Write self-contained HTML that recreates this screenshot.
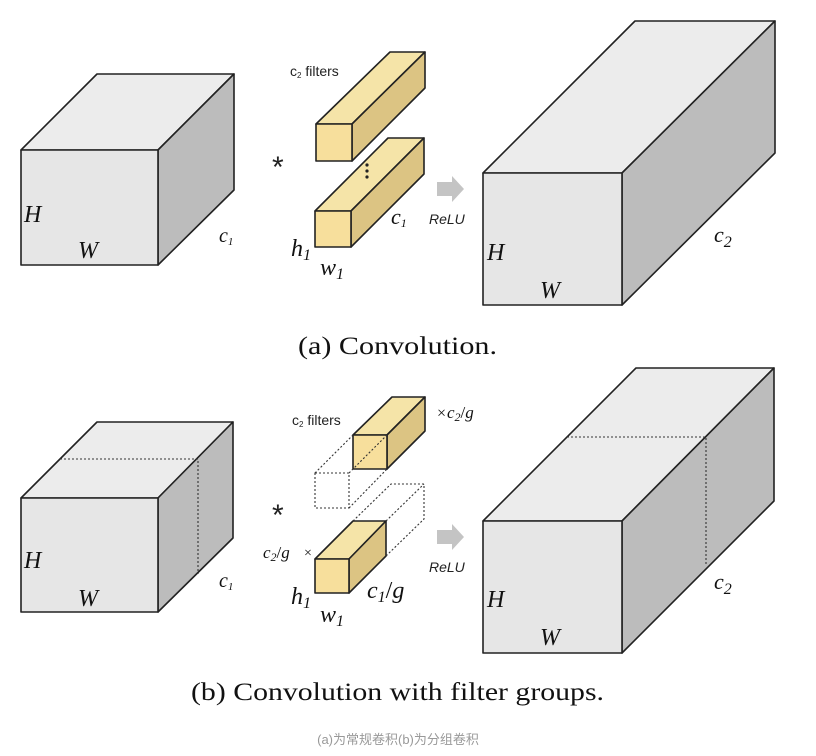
<!DOCTYPE html>
<html><head><meta charset="utf-8"><style>
html,body{margin:0;padding:0;background:#fff;}
svg{display:block;}
</style></head><body>
<svg width="816" height="756" viewBox="0 0 816 756" xmlns="http://www.w3.org/2000/svg">
<g stroke="#222" stroke-width="1.6" stroke-linejoin="round">
<!-- (a) left box -->
<polygon points="21,150 97,74 234,74 158,150" fill="#ececec"/>
<polygon points="158,150 234,74 234,190 158,265" fill="#bcbcbc"/>
<rect x="21" y="150" width="137" height="115" fill="#e6e6e6"/>
<!-- (a) filter 1 -->
<polygon points="316,124 390,52 425,52 352,124" fill="#f5e4a8"/>
<polygon points="352,124 425,52 425,88 352,161" fill="#dcc483"/>
<rect x="316" y="124" width="36" height="37" fill="#f7df9c"/>
<!-- (a) filter 2 -->
<polygon points="315,211 388,138 424,138 351,211" fill="#f5e4a8"/>
<polygon points="351,211 424,138 424,174 351,247" fill="#dcc483"/>
<rect x="315" y="211" width="36" height="36" fill="#f7df9c"/>
<!-- (a) right box -->
<polygon points="483,173 635,21 775,21 622,173" fill="#ececec"/>
<polygon points="622,173 775,21 775,153 622,305" fill="#bcbcbc"/>
<rect x="483" y="173" width="139" height="132" fill="#e6e6e6"/>

<!-- (b) left box -->
<polygon points="21,498 97,422 233,422 158,498" fill="#ececec"/>
<polygon points="158,498 233,422 233,538 158,612" fill="#bcbcbc"/>
<rect x="21" y="498" width="137" height="114" fill="#e6e6e6"/>
<!-- (b) right box -->
<polygon points="483,521 636,368 774,368 622,521" fill="#ececec"/>
<polygon points="622,521 774,368 774,501 622,653" fill="#bcbcbc"/>
<rect x="483" y="521" width="139" height="132" fill="#e6e6e6"/>
<!-- (b) top filter -->
<polygon points="353,435 392,397 425,397 387,435" fill="#f5e4a8"/>
<polygon points="387,435 425,397 425,431 387,469" fill="#dcc483"/>
<rect x="353" y="435" width="34" height="34" fill="#f7df9c"/>
<!-- (b) bottom filter -->
<polygon points="315,559 353,521 386,521 349,559" fill="#f5e4a8"/>
<polygon points="349,559 386,521 386,556 349,593" fill="#dcc483"/>
<rect x="315" y="559" width="34" height="34" fill="#f7df9c"/>
</g>
<!-- dotted lines -->
<g stroke="#333" stroke-width="1.1" stroke-dasharray="2,2" fill="none">
<path d="M60,459 L198,459 L198,574"/>
<path d="M567,437 L706,437 L706,565"/>
<rect x="315" y="473" width="34" height="35"/>
<path d="M315,473 L353,435 M349,508 L387,469 M349,473 L387,435"/>
<path d="M353,521 L391,484 L424,484 L424,519 L386,556 M386,521 L424,484"/>
</g>
<!-- arrows -->
<polygon points="437,182 452,182 452,176 464,189 452,202 452,196 437,196" fill="#c4c4c4"/>
<polygon points="437,530 452,530 452,524 464,537 452,550 452,544 437,544" fill="#c4c4c4"/>
<!-- dots -->
<g fill="#222"><circle cx="367" cy="165" r="1.6"/><circle cx="367" cy="171" r="1.6"/><circle cx="367" cy="177" r="1.6"/></g>

<g font-family="Liberation Serif, serif" font-style="italic" fill="#111">
<text x="24" y="222" font-size="24">H</text>
<text x="78" y="258" font-size="24">W</text>
<text x="219" y="242" font-size="20">c<tspan font-size="11" dy="3">1</tspan></text>
<text x="291" y="256" font-size="24">h<tspan font-size="16" dy="4">1</tspan></text>
<text x="320" y="275" font-size="24">w<tspan font-size="16" dy="4">1</tspan></text>
<text x="391" y="224" font-size="22">c<tspan font-size="12" dy="3">1</tspan></text>
<text x="487" y="260" font-size="24">H</text>
<text x="540" y="298" font-size="24">W</text>
<text x="714" y="242" font-size="22">c<tspan font-size="16" dy="5">2</tspan></text>

<text x="24" y="568" font-size="24">H</text>
<text x="78" y="606" font-size="24">W</text>
<text x="219" y="587" font-size="20">c<tspan font-size="11" dy="3">1</tspan></text>
<text x="291" y="604" font-size="24">h<tspan font-size="16" dy="4">1</tspan></text>
<text x="320" y="622" font-size="24">w<tspan font-size="16" dy="4">1</tspan></text>
<text x="367" y="598" font-size="24">c<tspan font-size="16" dy="4">1</tspan><tspan dy="-4" font-style="normal">/</tspan>g</text>
<text x="487" y="607" font-size="24">H</text>
<text x="540" y="645" font-size="24">W</text>
<text x="714" y="589" font-size="22">c<tspan font-size="16" dy="5">2</tspan></text>
<text x="437" y="418" font-size="16" font-style="normal">×</text>
<text x="447" y="418" font-size="17">c<tspan font-size="12" dy="3">2</tspan><tspan dy="-3" font-style="normal">/</tspan>g</text>
<text x="263" y="558" font-size="17">c<tspan font-size="12" dy="3">2</tspan><tspan dy="-3" font-style="normal">/</tspan>g</text>
<text x="304" y="557" font-size="14" font-style="normal">×</text>
</g>
<g font-family="Liberation Sans, sans-serif" fill="#222">
<text x="290" y="76" font-size="14">c<tspan font-size="8" dy="2">2</tspan><tspan dy="-2"> filters</tspan></text>
<text x="292" y="425" font-size="14">c<tspan font-size="8" dy="2">2</tspan><tspan dy="-2"> filters</tspan></text>
<text x="429" y="224" font-size="14" font-style="italic">ReLU</text>
<text x="429" y="572" font-size="14" font-style="italic">ReLU</text>
<text x="272" y="177" font-size="30">*</text>
<text x="272" y="525" font-size="30">*</text>
</g>
<g font-family="Liberation Serif, serif" fill="#111" font-size="25">
<text x="298" y="354" textLength="199" lengthAdjust="spacingAndGlyphs">(a) Convolution.</text>
<text x="191" y="700" textLength="413" lengthAdjust="spacingAndGlyphs">(b) Convolution with filter groups.</text>
</g>
<text x="398" y="744" text-anchor="middle" font-family="Liberation Sans, 'Noto Sans CJK SC', sans-serif" font-size="13" fill="#999">(a)为常规卷积(b)为分组卷积</text>
</svg>
</body></html>
